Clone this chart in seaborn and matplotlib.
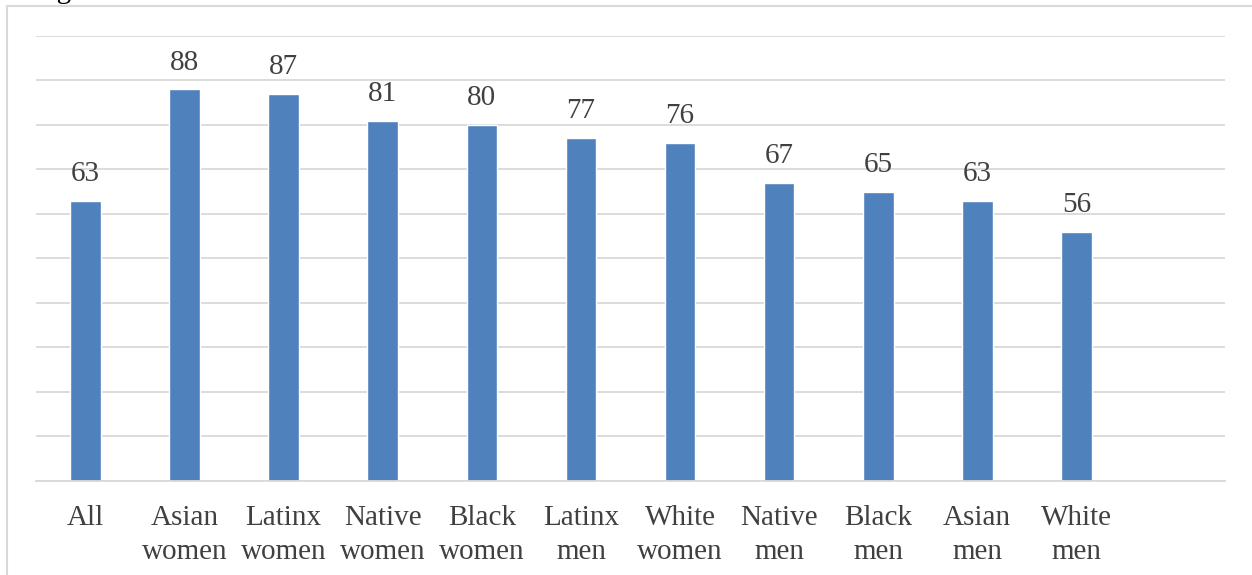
import matplotlib.pyplot as plt
import seaborn as sns
import pandas as pd
from matplotlib.patches import Rectangle

groups = ['All', 'Asian\nwomen', 'Latinx\nwomen', 'Native\nwomen', 'Black\nwomen', 'Latinx\nmen',
          'White\nwomen', 'Native\nmen', 'Black\nmen', 'Asian\nmen', 'White\nmen']
values = [63, 88, 87, 81, 80, 77, 76, 67, 65, 63, 56]

sns.set_theme(style="white")
plt.rcParams['font.family'] = ['Liberation Serif', 'DejaVu Serif']

fig = plt.figure(figsize=(12.52, 5.75), dpi=100)
ax = fig.add_axes([0.0288, 0.1635, 0.9496, 0.7739])

df = pd.DataFrame({'group': groups, 'value': values})
sns.barplot(data=df, x='group', y='value', color='#4F81BD', saturation=1, width=0.31, ax=ax)

txt = '#404040'
fs = 21
for i, v in enumerate(values):
    ax.annotate(f'{v}', (i, v), textcoords='offset points', xytext=(0, 10),
                ha='center', va='bottom', fontsize=fs, color=txt)

ax.set_xlim(-0.5, 11.5)
ax.set_ylim(0, 100)
ax.set_yticks(range(0, 101, 10))
ax.set_yticklabels([])
ax.yaxis.grid(True, color='#D9D9D9', linewidth=1.3)
ax.set_axisbelow(True)
ax.tick_params(axis='x', length=0, pad=17, labelsize=fs, labelcolor=txt)
ax.tick_params(axis='y', length=0)
for lbl in ax.get_xticklabels():
    lbl.set_linespacing(1.4)
ax.set_xlabel('')
ax.set_ylabel('')
for s in ['top', 'right', 'left']:
    ax.spines[s].set_visible(False)
ax.spines['bottom'].set_color('#D9D9D9')
ax.spines['bottom'].set_linewidth(1.3)

# outer chart frame and clipped title above it
fig.patches.append(Rectangle((7 / 1252, -0.1), 1.2, 1 - 6 / 575 + 0.1, transform=fig.transFigure,
                             fill=False, edgecolor='#D9D9D9', linewidth=1.5))
fig.text(0.0, 1.0 + 2 / 575, 'race/gender', ha='left', va='baseline', fontsize=fs, color='black')

fig.savefig('out.png', dpi=100)
